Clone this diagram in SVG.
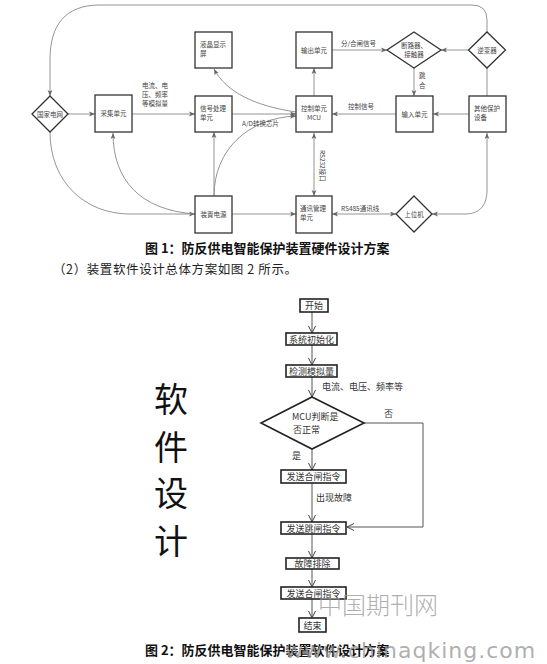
<svg xmlns="http://www.w3.org/2000/svg" width="547" height="664" viewBox="0 0 547 664">
<style>
.bx{fill:#fff;stroke:#333;stroke-width:1.3}
.dm{fill:#fff;stroke:#333;stroke-width:1.3}
.ln{fill:none;stroke:#888;stroke-width:0.9}
.t{font-family:"Noto Sans CJK SC","Noto Sans",sans-serif;font-size:6.5px;fill:#444}
.tc{text-anchor:middle}
.fb{fill:#fff;stroke:#222;stroke-width:1.6}
.fl{fill:none;stroke:#555;stroke-width:1}
.ft{font-family:"Noto Sans CJK SC","Noto Sans",sans-serif;font-size:9px;fill:#333}
.cap{font-family:"Noto Sans CJK SC",sans-serif;font-size:13px;font-weight:bold;fill:#111}
</style>
<defs>
<marker id="a" markerUnits="userSpaceOnUse" markerWidth="7" markerHeight="7" refX="6" refY="3" orient="auto-start-reverse"><path d="M0,0.6 L6,3 L0,5.4 L1.5,3 z" fill="#666"/></marker>
<marker id="v" markerUnits="userSpaceOnUse" markerWidth="9" markerHeight="9" refX="7" refY="4" orient="auto"><path d="M0,0.5 L7,4 L0,7.5" fill="none" stroke="#444" stroke-width="1"/></marker>
</defs>
<rect width="547" height="664" fill="#fff"/>

<g id="connectors">
<path class="ln" d="M487,32 L487,20 Q487,5 472,5 L100,5 C65,5 50,25 50,60 L50,96" marker-end="url(#a)"/>
<path class="ln" d="M68,114 L95,114" marker-end="url(#a)"/>
<path class="ln" d="M132,114 L195,114" marker-end="url(#a)"/>
<path class="ln" d="M232,114 L296,114" marker-end="url(#a)"/>
<path class="ln" d="M296,112 C255,106 226,92 214,69" marker-end="url(#a)"/>
<path class="ln" d="M214,196 L214,132" marker-end="url(#a)"/>
<path class="ln" d="M214,196 C214,150 248,118 296,116" marker-end="url(#a)"/>
<path class="ln" d="M50,132 C50,182 85,214 130,214 L195,214" marker-end="url(#a)"/>
<path class="ln" d="M195,214 C140,210 113,180 113,133" marker-end="url(#a)"/>
<path class="ln" d="M232,214 L296,214" marker-end="url(#a)"/>
<path class="ln" d="M314,133 L314,196" marker-start="url(#a)" marker-end="url(#a)"/>
<path class="ln" d="M332,214 L396,214" marker-start="url(#a)" marker-end="url(#a)"/>
<path class="ln" d="M432,214 L465,214 C480,214 487,205 487,190 L487,133" marker-start="url(#a)" marker-end="url(#a)"/>
<path class="ln" d="M487,68 L487,96"/>
<path class="ln" d="M469,50 L441,50" marker-end="url(#a)"/>
<path class="ln" d="M332,50 L387,50" marker-end="url(#a)"/>
<path class="ln" d="M414,68 L414,96" marker-end="url(#a)"/>
<path class="ln" d="M396,114 L332,114" marker-end="url(#a)"/>
<path class="ln" d="M469,114 L433,114" marker-end="url(#a)"/>
<path class="ln" d="M314,96 L314,68" marker-end="url(#a)"/>
<text class="t tc" x="155" y="88">电流、电</text>
<text class="t tc" x="155" y="97">压、频率</text>
<text class="t tc" x="155" y="106">等模拟量</text>
<text class="t" x="242" y="126">A/D转换芯片</text>
<text class="t" x="341" y="46">分/合闸信号</text>
<text class="t" x="348" y="109">控制信号</text>
<text class="t" x="341" y="211">RS485通讯线</text>
<text class="t" transform="translate(320,150) rotate(90)">RS232接口</text>
<text class="t" x="419" y="78">跳</text>
<text class="t" x="419" y="88">合</text>

<path class="fl" d="M312,312 L312,333" marker-end="url(#v)"/>
<path class="fl" d="M312,345 L312,365" marker-end="url(#v)"/>
<path class="fl" d="M312,377 L312,397" marker-end="url(#v)"/>
<path class="fl" d="M312,449 L312,470" marker-end="url(#v)"/>
<path class="fl" d="M312,483 L312,522" marker-end="url(#v)"/>
<path class="fl" d="M312,534 L312,558" marker-end="url(#v)"/>
<path class="fl" d="M312,569 L312,587" marker-end="url(#v)"/>
<path class="fl" d="M312,599 L312,618" marker-end="url(#v)"/>
<path class="fl" d="M364,423 L423,423 L423,527 L347,527" marker-end="url(#v)"/>
<text class="ft" x="322" y="390">电流、电压、频率等</text>
<text class="ft" x="384" y="417">否</text>
<text class="ft" x="292" y="459">是</text>
<text class="ft" x="316" y="501">出现故障</text>
</g>

<g id="n-guojia"><path class="dm" d="M50,96 L68,114 L50,132 L32,114 z"/><text class="t tc" x="50" y="116.5">国家电网</text></g>
<g id="n-caiji"><rect class="bx" x="95" y="95" width="37" height="37"/><text class="t tc" x="113.5" y="116">采集单元</text></g>
<g id="n-xinhao"><rect class="bx" x="195" y="96" width="37" height="36"/><text class="t" x="200" y="111">信号处理</text><text class="t" x="200" y="120">单元</text></g>
<g id="n-yejing"><rect class="bx" x="195" y="32" width="37" height="36"/><text class="t" x="200" y="47">液晶显示</text><text class="t" x="200" y="56">屏</text></g>
<g id="n-dianyuan"><rect class="bx" x="195" y="196" width="37" height="37"/><text class="t tc" x="213.5" y="216.5">装置电源</text></g>
<g id="n-shuchu"><rect class="bx" x="296" y="32" width="36" height="36"/><text class="t tc" x="314" y="52.5">输出单元</text></g>
<g id="n-mcu"><rect class="bx" x="296" y="96" width="36" height="36"/><text class="t tc" x="314" y="111">控制单元</text><text class="t tc" x="314" y="120">MCU</text></g>
<g id="n-tongxun"><rect class="bx" x="296" y="196" width="36" height="37"/><text class="t" x="300" y="211">通讯管理</text><text class="t" x="300" y="220">单元</text></g>
<g id="n-duanluqi"><path class="dm" d="M414,32 L441,50 L414,68 L387,50 z"/><text class="t tc" x="414" y="48">断路器、</text><text class="t tc" x="414" y="57">接触器</text></g>
<g id="n-nibianqi"><path class="dm" d="M487,32 L505.5,50 L487,68 L468.5,50 z"/><text class="t tc" x="487" y="52.5">逆变器</text></g>
<g id="n-shuru"><rect class="bx" x="396" y="96" width="37" height="36"/><text class="t tc" x="414.5" y="116.5">输入单元</text></g>
<g id="n-qita"><rect class="bx" x="469" y="96" width="37" height="36"/><text class="t" x="474" y="111">其他保护</text><text class="t" x="474" y="120">设备</text></g>
<g id="n-shangwei"><path class="dm" d="M414,196 L432,214 L414,232 L396,214 z"/><text class="t tc" x="414" y="216.5">上位机</text></g>

<text class="cap" x="145" y="253">图 1：防反供电智能保护装置硬件设计方案</text>
<text x="53" y="274" font-family="Noto Sans CJK SC,sans-serif" font-size="12.5" letter-spacing="0.6" fill="#222">（2）装置软件设计总体方案如图 2 所示。</text>

<g font-family="Noto Sans CJK SC,sans-serif" font-size="34" fill="#111" text-anchor="middle">
<text x="171" y="412">软</text>
<text x="171" y="460">件</text>
<text x="171" y="506">设</text>
<text x="171" y="554">计</text>
</g>

<g id="f-start"><rect class="fb" x="300" y="299" width="28" height="13"/><text class="ft tc" x="314" y="309">开始</text></g>
<g id="f-init"><rect class="fb" x="286" y="333" width="51" height="12"/><text class="ft tc" x="311.5" y="342.5">系统初始化</text></g>
<g id="f-detect"><rect class="fb" x="286" y="365" width="51" height="12"/><text class="ft tc" x="311.5" y="374.5">检测模拟量</text></g>
<g id="f-judge"><path class="fb" d="M312,397 L364,423 L312,449 L261,423 z"/><text class="ft" x="292" y="420">MCU判断是</text><text class="ft" x="293" y="433">否正常</text></g>
<g id="f-close1"><rect class="fb" x="281" y="470" width="65" height="13"/><text class="ft tc" x="313.5" y="480">发送合闸指令</text></g>
<g id="f-trip"><rect class="fb" x="281" y="522" width="65" height="12"/><text class="ft tc" x="313.5" y="531.5">发送跳闸指令</text></g>
<g id="f-clear"><rect class="fb" x="286" y="558" width="53" height="11"/><text class="ft tc" x="312.5" y="567">故障排除</text></g>
<g id="f-close2"><rect class="fb" x="281" y="587" width="65" height="12"/><text class="ft tc" x="313.5" y="596.5">发送合闸指令</text></g>
<g id="f-end"><rect class="fb" x="299" y="618" width="27" height="14"/><text class="ft tc" x="312.5" y="628.5">结束</text></g>

<text class="cap" x="145" y="655">图 2：防反供电智能保护装置软件设计方案</text>
<text x="378" y="614" font-family="Noto Sans CJK SC,sans-serif" font-size="24" font-weight="300" fill="#999" fill-opacity="0.8" text-anchor="middle">中国期刊网</text>
<text x="285" y="658" font-family="DejaVu Sans,sans-serif" font-size="22" fill="#999" fill-opacity="0.8" letter-spacing="1">www.chinaqking.com</text>
</svg>
